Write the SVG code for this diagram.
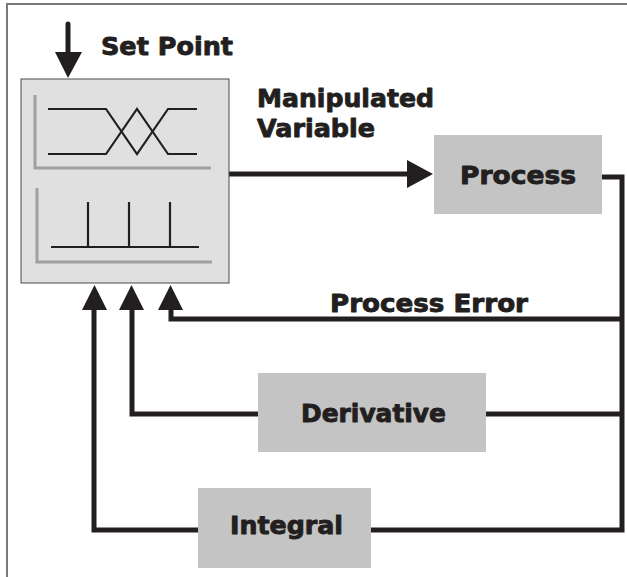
<svg xmlns="http://www.w3.org/2000/svg" width="627" height="577" viewBox="0 0 627 577">
<style>
.frame{fill:none;stroke:#7a7a7a;stroke-width:2}
.wire{fill:none;stroke:#231f20;stroke-width:5;stroke-linejoin:miter}
.head{fill:#231f20}
.box{fill:#c4c4c4}
.ctrl{fill:#e0e0e0;stroke:#4a4a4a;stroke-width:1}
.axis{fill:none;stroke:#a0a0a0;stroke-width:3}
.trace{fill:none;stroke:#231f20;stroke-width:2.2}
.lbl{font-family:"DejaVu Sans","Liberation Sans",sans-serif;font-weight:bold;font-size:25px;fill:#231f20;stroke:#231f20;stroke-width:0.9;stroke-linejoin:round}
</style>
<rect width="627" height="577" fill="#ffffff"/>
<polyline class="frame" points="7,577 7,4 627,4"/>

<g id="connectors">
  <line class="wire" x1="68" y1="24" x2="68" y2="54" stroke-linecap="round"/>
  <polygon class="head" points="55,52 82,52 68,78"/>
  <line class="wire" x1="229" y1="174" x2="409" y2="174"/>
  <polygon class="head" points="407,160 433,174 407,188"/>
  <polyline class="wire" points="602,177 622,177 622,530 371,530"/>
  <line class="wire" x1="486" y1="414" x2="622" y2="414"/>
  <polyline class="wire" points="171,308 171,319 622,319"/>
  <polyline class="wire" points="132,308 132,414 258,414"/>
  <polyline class="wire" points="94,308 94,530 198,530"/>
  <polygon class="head" points="82,310 107,310 94.5,285"/>
  <polygon class="head" points="119,310 144,310 131.5,285"/>
  <polygon class="head" points="158,310 183,310 170.5,285"/>
</g>

<g id="setpoint-label">
  <text class="lbl" x="101" y="55" textLength="132" lengthAdjust="spacingAndGlyphs">Set Point</text>
</g>

<g id="mv-label">
  <text class="lbl" x="257" y="107" textLength="177" lengthAdjust="spacingAndGlyphs">Manipulated</text>
  <text class="lbl" x="257" y="137" textLength="118" lengthAdjust="spacingAndGlyphs">Variable</text>
</g>

<g id="controller">
  <rect class="ctrl" x="21" y="79" width="208" height="204"/>
  <polyline class="axis" points="35,95 35,168 211,168"/>
  <polyline class="trace" points="48,109 106,109 137,154 168,109 197,109"/>
  <polyline class="trace" points="48,154 106,154 137,109 168,154 197,154"/>
  <polyline class="axis" points="37,188 37,262 212,262"/>
  <polyline class="trace" points="51,247 199,247"/>
  <line class="trace" x1="88" y1="202" x2="88" y2="247"/>
  <line class="trace" x1="129" y1="202" x2="129" y2="247"/>
  <line class="trace" x1="170" y1="202" x2="170" y2="247"/>
</g>

<g id="process">
  <rect class="box" x="434" y="135" width="168" height="79"/>
  <text class="lbl" x="460" y="184" textLength="116" lengthAdjust="spacingAndGlyphs">Process</text>
</g>

<g id="process-error-label">
  <text class="lbl" x="330" y="312" textLength="198" lengthAdjust="spacingAndGlyphs">Process Error</text>
</g>

<g id="derivative">
  <rect class="box" x="258" y="373" width="228" height="79"/>
  <text class="lbl" x="301" y="422" textLength="145" lengthAdjust="spacingAndGlyphs">Derivative</text>
</g>

<g id="integral">
  <rect class="box" x="198" y="488" width="173" height="80"/>
  <text class="lbl" x="230" y="534" textLength="113" lengthAdjust="spacingAndGlyphs">Integral</text>
</g>
</svg>
